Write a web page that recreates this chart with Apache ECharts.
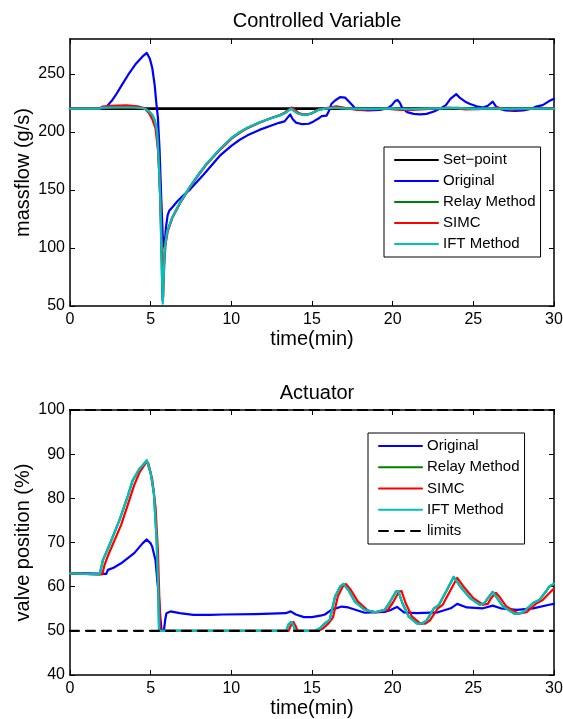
<!DOCTYPE html>
<html>
<head>
<meta charset="utf-8">
<script src="https://cdn.jsdelivr.net/npm/echarts@6/dist/echarts.min.js"></script>
<style>
  html, body { margin: 0; padding: 0; background: #fff; }
  #chart { width: 563px; height: 719px; }
</style>
</head>
<body>
<div id="chart"></div>
<script>
// ---------- data (time in minutes) ----------
const xTicks = [0, 5, 10, 15, 20, 25, 30];
const cvTitle = 'Controlled Variable';
const actTitle = 'Actuator';

const cvSetPoint = [[0, 220], [30, 220]];

const cvOriginal = [[0,220],[1,220],[2,220],[2.2,220.5],[2.35,223],[2.6,227],[2.85,232],[3.2,240],[3.6,249],[4.1,259],[4.5,265],[4.76,268],[4.95,263],[5.1,255],[5.25,240],[5.35,225],[5.45,212],[5.55,185],[5.65,145],[5.75,110],[5.85,100],[5.95,118],[6.05,128],[6.15,132],[6.4,136],[6.64,140],[7.0,145],[7.45,150.5],[8.27,163],[8.7,170],[9.29,179.5],[10.0,188],[10.5,193],[11.0,197],[11.74,201.7],[12.4,205],[12.96,207.8],[13.3,209],[13.5,212.5],[13.65,215],[13.8,211],[14.0,208],[14.4,206.6],[14.8,207],[15.1,209],[15.4,211.5],[15.6,213.5],[15.9,214],[16.05,218],[16.2,224],[16.43,227],[16.74,230],[17.05,229.5],[17.36,225],[17.66,220.5],[18.0,219],[18.47,218.5],[19.2,219],[19.7,220.4],[19.95,223],[20.15,226.5],[20.3,227.5],[20.45,225],[20.6,220.4],[20.9,217],[21.3,215.5],[21.7,215],[22.1,215.5],[22.56,217.5],[23.0,220.5],[23.3,223],[23.58,228.5],[23.94,232.5],[24.19,229],[24.5,226],[24.8,224],[25.2,222],[25.6,221],[25.9,222.5],[26.2,226],[26.4,222],[26.7,219.5],[27.0,218.4],[27.6,218],[28.1,218.4],[28.6,220],[28.9,221.8],[29.3,223],[29.7,226.5],[30,228.5]];

const cvRelay = [[0,220],[1.8,220],[2.0,220.8],[3,221],[4,221],[4.5,220.5],[4.7,219.5],[4.9,217.5],[5.1,214.5],[5.25,210],[5.4,200],[5.5,175],[5.6,140],[5.67,95],[5.73,55],[5.8,80],[5.87,100],[6.02,114],[6.33,126],[6.84,139.5],[7.45,153],[8.0,164],[8.47,172.5],[9.29,185],[10.0,194.5],[10.5,199.5],[11.0,203.5],[11.74,208],[12.4,211.5],[12.96,214],[13.3,216],[13.7,220],[14.1,216],[14.4,214.7],[14.7,214.8],[15.0,216],[15.4,219],[15.8,220],[16.3,220.8],[17,220.3],[18,219.8],[19,219.8],[20,220.3],[21,219.5],[22,220],[23,220.3],[24,220.6],[25,219.8],[26,220.3],[27,219.8],[28,220],[29,220],[30,220]];

const cvSIMC = [[0,220],[1.8,220],[2.0,221.8],[2.5,222.5],[3.5,222.8],[4.2,222],[4.6,220.5],[4.9,216],[5.1,211],[5.3,203],[5.45,185],[5.55,160],[5.65,120],[5.72,80],[5.78,58],[5.84,85],[5.92,103],[6.05,114],[6.33,125.5],[6.84,139],[7.45,152.5],[8.0,163.5],[8.47,172],[9.29,184.5],[10.0,194],[10.5,199],[11.0,203.2],[11.74,207.8],[12.4,211.5],[12.96,214.3],[13.3,216.5],[13.75,221],[14.15,216.5],[14.45,215],[14.75,215],[15.05,216.5],[15.45,219.5],[15.9,220.5],[16.5,222],[17.3,220],[17.8,219],[18.5,219.2],[19.5,220],[20.5,219],[21.2,219],[22,219.6],[23.5,221],[24.5,219.3],[25.3,219.5],[26.5,221],[27.3,219.2],[28,219.5],[29,220],[30,220]];

const cvIFT = [[0,220],[1.8,220],[2.0,220.8],[3,221],[4,221],[4.5,220.5],[4.7,219.5],[4.9,217.5],[5.1,214.5],[5.25,210],[5.4,200],[5.5,175],[5.6,140],[5.68,90],[5.75,52],[5.82,80],[5.88,100],[6.02,114],[6.33,126],[6.84,139.5],[7.45,153],[8.0,164],[8.47,172.5],[9.29,185],[10.0,194.5],[10.5,199.5],[11.0,203.5],[11.74,208],[12.4,211.5],[12.96,214],[13.3,216],[13.7,220],[14.1,216],[14.4,214.7],[14.7,214.8],[15.0,216],[15.4,219],[15.8,220],[16.3,220.8],[17,220.3],[18,219.8],[19,219.8],[20,220.3],[21,219.5],[22,220],[23,220.3],[24,220.6],[25,219.8],[26,220.3],[27,219.8],[28,220],[29,220],[30,220]];

const actOriginal = [[0,63],[1,63],[2.25,62.9],[2.35,63.8],[2.7,64.3],[3.17,65.3],[3.98,67.6],[4.5,69.8],[4.76,70.7],[5.0,69.8],[5.1,69],[5.3,66],[5.42,61],[5.51,57.8],[5.6,53],[5.68,50],[5.82,50],[5.9,52.5],[5.98,54],[6.23,54.4],[6.8,54],[7.65,53.6],[8.7,53.6],[9.5,53.7],[11.5,53.8],[13.37,54],[13.68,54.4],[14.0,53.7],[14.5,53.1],[15.0,53.1],[15.6,53.5],[15.8,53.7],[16.2,54.75],[16.84,55.5],[17.25,55.3],[18.27,54.1],[19.5,54.3],[19.9,54.75],[20.27,55.4],[20.7,54.2],[21.5,54],[22.8,54.2],[23.6,55.1],[24.0,56.1],[24.6,55.3],[25.6,55.1],[26.2,55.7],[26.7,55.1],[27.7,54.75],[28.7,55.1],[29.7,55.9],[30,56.1]];

const actRelay = [[0,63],[1.84,62.8],[2.04,66],[2.45,69.5],[3.06,75],[3.58,80.5],[3.88,84],[4.29,86.6],[4.6,87.9],[4.76,88.6],[5.0,85.7],[5.2,81.2],[5.37,70.6],[5.47,59.3],[5.52,50],[13.4,50],[13.55,51.5],[13.7,52],[13.85,51.3],[13.95,50],[15.2,50],[15.5,50.6],[15.8,51.7],[16.1,52.5],[16.43,57.8],[16.74,60],[16.94,60.6],[17.25,59.3],[17.66,56.6],[18.27,54.75],[18.9,54.2],[19.5,54.75],[19.8,56.3],[20.2,58.9],[20.35,59],[20.6,56.3],[21.0,53.2],[21.5,51.7],[21.8,51.6],[22.1,52.3],[22.56,55.1],[22.87,55.9],[23.37,59.3],[23.78,62.2],[23.9,62.3],[24.2,60],[24.8,57.4],[25.4,55.9],[25.7,56.3],[25.9,57.4],[26.2,58.8],[26.4,57.8],[26.85,55.5],[27.56,53.85],[28.07,54.15],[28.7,56.3],[29.1,57],[29.5,58.9],[29.7,60],[30,60.7]];

const actSIMC = [[0,63],[2.0,62.8],[2.15,65],[2.35,67],[3.17,74],[3.58,78.5],[3.98,83],[4.3,85.8],[4.7,88],[4.85,88],[5.1,84.2],[5.3,78],[5.45,68],[5.55,56],[5.6,50],[13.55,50],[13.7,51.3],[13.85,52],[14.0,51],[14.1,50],[15.4,50],[15.7,50.6],[16.0,51.6],[16.3,53],[16.6,57.8],[16.9,60],[17.1,60.6],[17.4,59.3],[17.85,56.6],[18.5,54.5],[19.0,54.2],[19.7,54.75],[20.0,56.3],[20.4,58.9],[20.55,59],[20.8,56.3],[21.2,53.2],[21.7,51.7],[22.0,51.6],[22.3,52.3],[22.8,55.1],[23.1,55.9],[23.6,59.3],[24.0,62],[24.1,62],[24.4,60],[25.0,57.4],[25.6,55.9],[25.9,56.1],[26.1,57.4],[26.4,58.6],[26.6,57.8],[27.05,55.5],[27.8,53.9],[28.3,54.2],[28.9,56.2],[29.3,57],[29.7,58.5],[30,59.6]];

const actIFT = [[0,63],[1.84,62.8],[2.04,66],[2.45,69.5],[3.06,75],[3.58,80.5],[3.88,84],[4.29,86.6],[4.6,87.9],[4.76,88.6],[5.0,85.7],[5.2,81.2],[5.37,70.6],[5.47,59.3],[5.52,50],[13.4,50],[13.55,51.5],[13.7,52],[13.85,51.3],[13.95,50],[15.2,50],[15.5,50.6],[15.8,51.7],[16.1,52.5],[16.43,57.8],[16.74,60],[16.94,60.6],[17.25,59.3],[17.66,56.6],[18.27,54.75],[18.9,54.2],[19.5,54.75],[19.8,56.3],[20.2,58.9],[20.35,59],[20.6,56.3],[21.0,53.2],[21.5,51.7],[21.8,51.6],[22.1,52.3],[22.56,55.1],[22.87,55.9],[23.37,59.3],[23.78,62.2],[23.9,62.3],[24.2,60],[24.8,57.4],[25.4,55.9],[25.7,56.3],[25.9,57.4],[26.2,58.8],[26.4,57.8],[26.85,55.5],[27.56,53.85],[28.07,54.15],[28.7,56.3],[29.1,57],[29.5,58.9],[29.7,60],[30,60.7]];

const actLimitLow = [[0,50],[30,50]];
const actLimitHigh = [[0,100],[30,100]];

const cvLegend = ['Set\u2212point', 'Original', 'Relay Method', 'SIMC', 'IFT Method'];
const actLegend = ['Original', 'Relay Method', 'SIMC', 'IFT Method', 'limits'];

// ---------- styling ----------
const FONT = 'Liberation Sans, Arial, sans-serif';
const C = { black: '#000000', blue: '#0000ff', green: '#008000', red: '#ff0000', cyan: '#00bfbf' };

function line(name, data, color, xi, yi, width, dash) {
  return {
    name, type: 'line', data, xAxisIndex: xi, yAxisIndex: yi,
    symbol: 'none', smooth: false, animation: false,
    lineStyle: { color, width: width || 2.2, type: dash || 'solid', join: 'round', cap: 'round' },
    itemStyle: { color },
    clip: true
  };
}

function xAx(gi, top) {
  return {
    type: 'value', gridIndex: gi, min: 0, max: 30, interval: 5,
    position: top ? 'top' : 'bottom',
    name: top ? '' : 'time(min)', nameLocation: 'middle', nameGap: 23, nameMoveOverlap: false,
    nameTextStyle: { fontFamily: FONT, fontSize: 20, color: '#000' },
    axisLine: { show: true, onZero: false, lineStyle: { color: '#000', width: 1.5 } },
    axisTick: { show: true, inside: true, length: 5, lineStyle: { color: '#000', width: 1 } },
    axisLabel: { show: !top, fontFamily: FONT, fontSize: 16, color: '#000', margin: 6 },
    splitLine: { show: false }
  };
}
function yAx(gi, right, min, max, interval, name) {
  return {
    type: 'value', gridIndex: gi, min, max, interval,
    position: right ? 'right' : 'left',
    name: right ? '' : name, nameLocation: 'middle', nameGap: 37, nameMoveOverlap: false,
    nameTextStyle: { fontFamily: FONT, fontSize: 20, color: '#000' },
    axisLine: { show: true, onZero: false, lineStyle: { color: '#000', width: 1.5 } },
    axisTick: { show: true, inside: true, length: 5, lineStyle: { color: '#000', width: 1 } },
    axisLabel: { show: !right, fontFamily: FONT, fontSize: 16, color: '#000', margin: 5,
                 showMaxLabel: (max % interval === 0) },
    splitLine: { show: false }
  };
}

const legendBase = {
  orient: 'vertical', itemWidth: 43, itemHeight: 16, padding: [5, 5, 5, 10],
  borderColor: '#000', borderWidth: 1, backgroundColor: '#fff',
  itemStyle: { opacity: 0 },
  textStyle: { fontFamily: FONT, fontSize: 15, color: '#000', lineHeight: 16 }
};

const chart = echarts.init(document.getElementById('chart'), null, { renderer: 'canvas' });
chart.setOption({
  backgroundColor: '#ffffff',
  animation: false,
  title: [
    { text: cvTitle, left: 312, top: 6, textAlign: 'center',
      textStyle: { fontFamily: FONT, fontSize: 20, fontWeight: 'normal', color: '#000' } },
    { text: actTitle, left: 312, top: 378, textAlign: 'center',
      textStyle: { fontFamily: FONT, fontSize: 20, fontWeight: 'normal', color: '#000' } }
  ],
  grid: [
    { left: 70, right: 9, top: 39, height: 267, show: false, outerBoundsMode: 'none', containLabel: false },
    { left: 70, right: 9, top: 410, height: 265, show: false, outerBoundsMode: 'none', containLabel: false }
  ],
  xAxis: [xAx(0, false), xAx(0, true), xAx(1, false), xAx(1, true)],
  yAxis: [
    yAx(0, false, 50, 280, 50, 'massflow (g/s)'), yAx(0, true, 50, 280, 50, ''),
    yAx(1, false, 40, 100, 10, 'valve position (%)'), yAx(1, true, 40, 100, 10, '')
  ],
  legend: [
    Object.assign({}, legendBase, { data: cvLegend, left: 384, top: 147, itemGap: 5 }),
    Object.assign({}, legendBase, { data: actLegend, left: 368, top: 433, itemGap: 5.25 })
  ],
  series: [
    line('Set\u2212point', cvSetPoint, C.black, 0, 0, 2.6),
    line('Original', cvOriginal, C.blue, 0, 0),
    line('Relay Method', cvRelay, C.green, 0, 0),
    line('SIMC', cvSIMC, C.red, 0, 0),
    line('IFT Method', cvIFT, C.cyan, 0, 0),

    line('Original', actOriginal, C.blue, 2, 2),
    line('Relay Method', actRelay, C.green, 2, 2),
    line('SIMC', actSIMC, C.red, 2, 2),
    line('IFT Method', actIFT, C.cyan, 2, 2),
    line('limits', actLimitLow, C.black, 2, 2, 2.2, [9, 7]),
    line('limits', actLimitHigh, C.black, 2, 2, 2.2, [9, 7])
  ]
});
</script>
</body>
</html>
